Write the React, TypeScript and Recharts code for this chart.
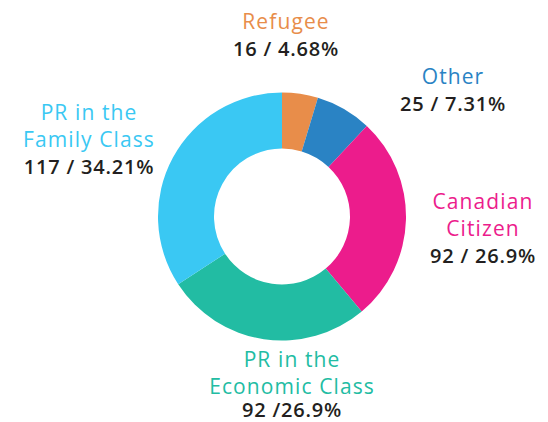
import { PieChart, Pie, Cell } from "recharts";

const CATEGORIES = ["Refugee", "Other", "Canadian Citizen", "PR in the Economic Class", "PR in the Family Class"];
const VALUES = [16, 25, 92, 92, 117];
const VALUE_TEXT = ["16 / 4.68%", "25 / 7.31%", "92 / 26.9%", "92 /26.9%", "117 / 34.21%"];
const NAME_LINES = [["Refugee"], ["Other"], ["Canadian", "Citizen"], ["PR in the", "Economic Class"], ["PR in the", "Family Class"]];

const COLORS = ["#E88D4A", "#2A83C4", "#EC1C8C", "#22BCA3", "#3AC8F3"];

// label block anchor (center x, first baseline) relative to pie center, and gap before the number line
const LABEL_OFFSET: [number, number, number][] = [
  [4, -188, 27],
  [171, -133, 27],
  [201, -8, 27],
  [10, 150, 23],
  [-193, -97, 27],
];

const LINE_H = 27;
const FONT = "'Open Sans', sans-serif";

const data = CATEGORIES.map((name, i) => ({ name, value: VALUES[i] }));

function renderLabel(props: any) {
  const { cx, cy, index } = props;
  const [dx, dy, gap] = LABEL_OFFSET[index];
  const x = cx + dx;
  const y0 = cy + dy;
  const lines = NAME_LINES[index];
  return (
    <g key={`lbl-${index}`}>
      {lines.map((t, j) => (
        <text
          key={j}
          x={x}
          y={y0 + j * LINE_H}
          textAnchor="middle"
          fill={COLORS[index]}
          fontSize={21}
          fontFamily={FONT}
          fontWeight={500}
          letterSpacing={1.1}
        >
          {t}
        </text>
      ))}
      <text
        x={x}
        y={y0 + (lines.length - 1) * LINE_H + gap}
        textAnchor="middle"
        fill="#231F20"
        fontSize={20}
        fontFamily={FONT}
        fontWeight={600}
        letterSpacing={0.8}
      >
        {VALUE_TEXT[index]}
      </text>
    </g>
  );
}

export default function App() {
  return (
    <div style={{ position: "absolute", left: 0, top: 0, background: "#fff" }}>
      <PieChart width={548} height={422} margin={{ top: 0, right: 0, bottom: 0, left: 0 }}>
        <Pie
          data={data}
          dataKey="value"
          nameKey="name"
          cx={282}
          cy={216.5}
          innerRadius={68}
          outerRadius={124}
          startAngle={90}
          endAngle={-270}
          stroke="none"
          label={renderLabel}
          labelLine={false}
          isAnimationActive={false}
        >
          {data.map((d, i) => (
            <Cell key={d.name} fill={COLORS[i]} />
          ))}
        </Pie>
      </PieChart>
    </div>
  );
}
